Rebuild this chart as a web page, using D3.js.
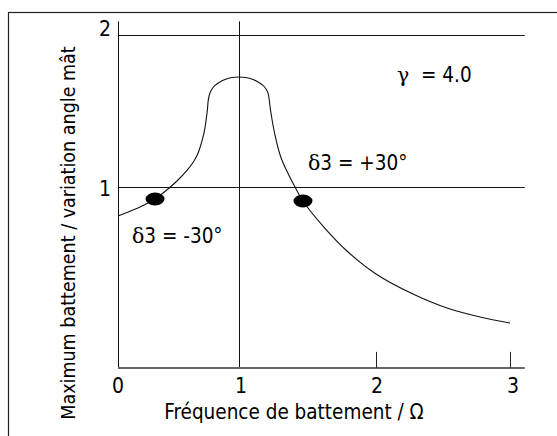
<!DOCTYPE html>
<html><head><meta charset="utf-8">
<script src="https://cdn.jsdelivr.net/npm/d3@7"></script>
<style>html,body{margin:0;padding:0;background:#fff;}svg{display:block;}</style>
</head><body>
<script>
// ---- data ----
const curveX = [0, 0.099, 0.198, 0.306, 0.413, 0.496, 0.570, 0.620, 0.653, 0.678, 0.702, 0.719, 0.731, 0.740, 0.746, 0.760, 0.777, 0.802, 0.843, 0.884, 0.942, 1.0,
  1.051, 1.102, 1.139, 1.175, 1.197, 1.212, 1.221, 1.228, 1.237, 1.248, 1.263, 1.280, 1.299, 1.323, 1.365, 1.409, 1.467,
  1.613, 1.788, 2.0, 2.276, 2.530, 2.776, 3.0];
const curveY = [0.809, 0.840, 0.875, 0.921, 0.987, 1.046, 1.109, 1.161, 1.207, 1.260, 1.326, 1.391, 1.457, 1.516, 1.572, 1.618, 1.645, 1.668, 1.691, 1.707, 1.720, 1.724,
  1.720, 1.707, 1.691, 1.668, 1.645, 1.618, 1.572, 1.520, 1.467, 1.408, 1.342, 1.276, 1.214, 1.156, 1.076, 1.000, 0.908,
  0.743, 0.579, 0.428, 0.296, 0.204, 0.145, 0.105];
const markerX = [0.306, 1.467];
const markerY = [0.921, 0.908];
const xTicks = [0, 1, 2, 3];
const yTicks = [1, 2];
const xTickLabels = ["0", "1", "2", "3"];
const yTickLabels = ["1", "2"];
const annotations = ["= 4.0", "3 = +30°", "3 = -30°"];

const W = 557, H = 436;
const svg = d3.select("body").append("svg").attr("width", W).attr("height", H);
const FONT = "'DejaVu Sans Condensed','DejaVu Sans',sans-serif";

// scales (hand-drawn axis, uneven spacing)
const x = d3.scaleLinear().domain([0, 1, 2, 3]).range([118, 239, 376, 510]);
const y = d3.scaleLinear().domain([0, 2]).range([339, 35]);
const xMax = 3.11, yTop = 2.09, yBase = -0.19;

// frame
svg.append("rect").attr("x", 8.5).attr("y", 12.5).attr("width", 700).attr("height", 600)
  .attr("fill", "none").attr("stroke", "#222").attr("stroke-width", 1.2);

// horizontal grid lines at 1 and 2
svg.selectAll("line.h").data(yTicks).join("line")
  .attr("x1", x(0)).attr("x2", x(xMax))
  .attr("y1", d => Math.round(y(d)) + 0.5).attr("y2", d => Math.round(y(d)) + 0.5)
  .attr("stroke", "#111").attr("stroke-width", 1);

// y axis & vertical line at 1
svg.selectAll("line.v").data([0, 1]).join("line")
  .attr("x1", d => Math.round(x(d)) + 0.5).attr("x2", d => Math.round(x(d)) + 0.5)
  .attr("y1", y(yTop)).attr("y2", y(yBase))
  .attr("stroke", "#111").attr("stroke-width", 1);

// x axis
svg.append("line").attr("x1", x(0)).attr("x2", x(xMax))
  .attr("y1", y(yBase)).attr("y2", y(yBase))
  .attr("stroke", "#666").attr("stroke-width", 2);
// ticks at 2,3
svg.selectAll("line.t").data([2, 3]).join("line")
  .attr("x1", d => Math.round(x(d)) + 0.5).attr("x2", d => Math.round(x(d)) + 0.5)
  .attr("y1", y(yBase) - 16).attr("y2", y(yBase))
  .attr("stroke", "#222").attr("stroke-width", 1);

// x tick labels
const xLabelDx = [0, 2, 1, 3];
svg.selectAll("text.xt").data(xTicks).join("text")
  .attr("x", (d, i) => x(d) + xLabelDx[i]).attr("y", 393)
  .attr("text-anchor", "middle").attr("font-family", FONT).attr("font-size", 21)
  .text((d, i) => xTickLabels[i]);
// y tick labels
const yLabelBase = [196, 36];
svg.selectAll("text.yt").data(yTicks).join("text")
  .attr("x", 105).attr("y", (d, i) => yLabelBase[i])
  .attr("text-anchor", "middle").attr("font-family", FONT).attr("font-size", 21)
  .text((d, i) => yTickLabels[i]);

// axis titles
svg.append("text").attr("x", 294).attr("y", 419).attr("text-anchor", "middle")
  .attr("font-family", FONT).attr("font-size", 20.5)
  .text("Fréquence de battement / Ω");
svg.append("text").attr("transform", "translate(75,233) rotate(-90)").attr("text-anchor", "middle")
  .attr("font-family", FONT).attr("font-size", 19.5)
  .text("Maximum battement / variation angle mât");

// curve
const pts = curveX.map((v, i) => [v, curveY[i]]);
svg.append("path").datum(pts)
  .attr("d", d3.line().x(d => x(d[0])).y(d => y(d[1])).curve(d3.curveCatmullRom.alpha(0.5)))
  .attr("fill", "none").attr("stroke", "#111").attr("stroke-width", 1.1);

// markers
svg.selectAll("ellipse").data(markerX).join("ellipse")
  .attr("cx", d => x(d)).attr("cy", (d, i) => y(markerY[i]))
  .attr("rx", 9.5).attr("ry", 6.5).attr("fill", "#000");

// annotations
function ann(px, py, greek, rest) {
  const t = svg.append("text").attr("x", px).attr("y", py)
    .attr("font-family", FONT).attr("font-size", 20.5).style("white-space", "pre");
  t.append("tspan").attr("font-family", "'DejaVu Serif','Liberation Serif',serif").text(greek);
  t.append("tspan").text(rest);
}
ann(397, 82, "γ", "  " + annotations[0]);
ann(308, 170, "δ", annotations[1]);
ann(132, 243, "δ", annotations[2]);
</script>
</body></html>
